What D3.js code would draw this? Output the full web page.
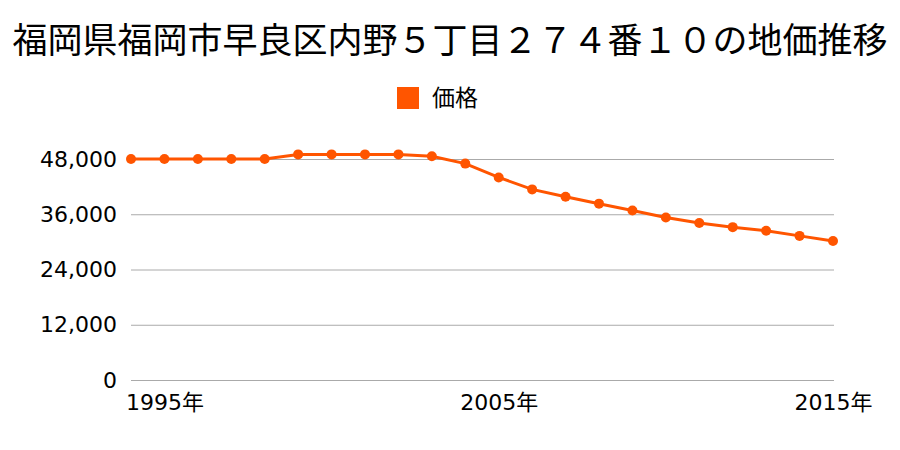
<!DOCTYPE html>
<html>
<head>
<meta charset="utf-8">
<script src="https://cdn.jsdelivr.net/npm/d3@7"></script>
<style>
  html, body { margin: 0; padding: 0; background: #fff; }
  svg { display: block; font-family: "Noto Sans CJK JP", "Noto Sans", sans-serif; }
</style>
</head>
<body>
<div id="chart"></div>
<script>
// data
var years = [1994, 1995, 1996, 1997, 1998, 1999, 2000, 2001, 2002, 2003, 2004,
             2005, 2006, 2007, 2008, 2009, 2010, 2011, 2012, 2013, 2014, 2015];
var prices = [48000, 48000, 48000, 48000, 48000, 49000, 49000, 49000, 49000, 48600, 47000,
              44000, 41400, 39800, 38300, 36800, 35300, 34100, 33200, 32400, 31300, 30200];
var yTicks = [0, 12000, 24000, 36000, 48000];
var xLabelYears = [1995, 2005, 2015];
var title = "福岡県福岡市早良区内野５丁目２７４番１０の地価推移";
var seriesName = "価格";

var width = 900, height = 450;
var margin = {top: 159, right: 66, bottom: 70, left: 131};
var color = "#ff5500";
var tickFont = '"DejaVu Sans", "Noto Sans CJK JP", sans-serif';

var svg = d3.select("#chart").append("svg")
    .attr("width", width)
    .attr("height", height);

var x = d3.scalePoint()
    .domain(years)
    .range([margin.left, width - margin.right - 1]);

var y = d3.scaleLinear()
    .domain([0, 48000])
    .range([height - margin.bottom, margin.top]);

// title
svg.append("text")
    .attr("x", width / 2)
    .attr("y", 53)
    .attr("text-anchor", "middle")
    .style("font-size", "35px")
    .style("fill", "#000")
    .text(title);

// legend
svg.append("rect")
    .attr("x", 397).attr("y", 87)
    .attr("width", 22).attr("height", 22)
    .style("fill", color);
svg.append("text")
    .attr("x", 432).attr("y", 106)
    .style("font-size", "23px")
    .text(seriesName);

// grid + y labels
var yAxis = d3.axisLeft(y)
    .tickValues(yTicks)
    .tickSize(-(width - margin.right - margin.left))
    .tickPadding(14)
    .tickFormat(d3.format(","));

var yg = svg.append("g")
    .attr("transform", "translate(" + margin.left + ",0)")
    .call(yAxis);
yg.select(".domain").remove();
yg.selectAll("line").style("stroke", "#aaa");
yg.selectAll("text")
    .style("font-size", "22px")
    .style("fill", "#000")
    .style("font-family", tickFont);

// x labels
var xAxis = d3.axisBottom(x)
    .tickValues(xLabelYears)
    .tickSize(0)
    .tickPadding(14)
    .tickFormat(function(d) { return d + "年"; });

var xg = svg.append("g")
    .attr("transform", "translate(0," + (height - margin.bottom) + ")")
    .call(xAxis);
xg.select(".domain").remove();
xg.selectAll("text")
    .style("font-size", "22px")
    .style("fill", "#000")
    .style("font-family", tickFont);

// line + dots
var line = d3.line()
    .x(function(d, i) { return x(years[i]); })
    .y(function(d) { return y(d); });

svg.append("path")
    .datum(prices)
    .attr("d", line)
    .style("fill", "none")
    .style("stroke", color)
    .style("stroke-width", 3);

svg.selectAll("circle.dot")
    .data(prices)
    .enter().append("circle")
    .attr("class", "dot")
    .attr("cx", function(d, i) { return x(years[i]); })
    .attr("cy", function(d) { return y(d); })
    .attr("r", 5)
    .style("fill", color);
</script>
</body>
</html>
